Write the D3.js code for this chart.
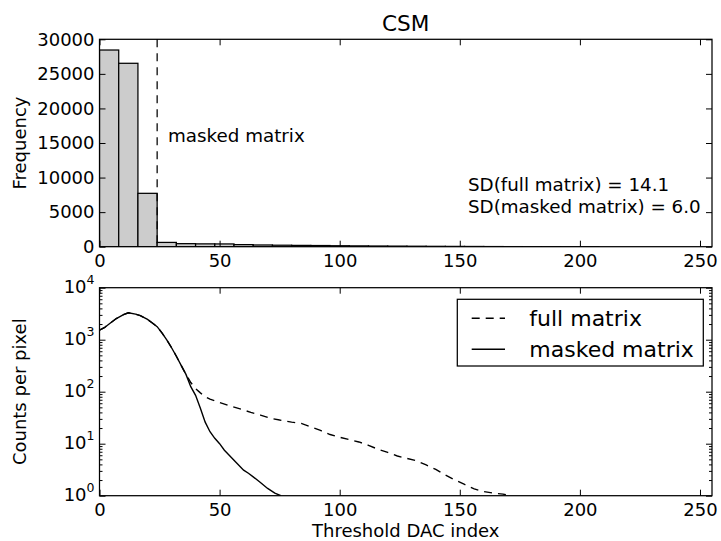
<!DOCTYPE html>
<html>
<head>
<meta charset="utf-8">
<script src="https://cdn.jsdelivr.net/npm/d3@7"></script>
<style>
  html, body { margin: 0; padding: 0; background: #fff; }
  svg { display: block; font-family: "DejaVu Sans", sans-serif; }
  .axis text { font-size: 18px; fill: #000; font-family: "DejaVu Sans", sans-serif; }
  .axis line { stroke: #000; stroke-width: 1; }
</style>
</head>
<body>
<svg id="chart" width="721" height="541"></svg>
<script>
// ---------------- data ----------------
const title = "CSM";
const histBinEdges = [0,8,16,24,32,40,48,56,64,72,80,88,96,104,112,120,128,136,144,152,160,168,176,184,192,200,208,216,224,232,240,248,256];
const histCounts = [28450,26530,7720,620,440,410,400,300,250,215,190,170,140,120,100,85,70,55,45,35,22,12,6,3,2,1,0,0,0,0,0,0];
const maskThreshold = 24;
const xTicks = [0,50,100,150,200,250];
const yTicksTop = [0,5000,10000,15000,20000,25000,30000];
const logDecades = [0,1,2,3,4];

const fullMatrix = [
  [0,1520],[2,1700],[4,2000],[7,2550],[10,3050],[12,3300],[15,3100],[17,2900],[20,2450],[22,2100],
  [24,1780],[26,1350],[28,990],[30,700],[32,480],[34,320],[36,215],[37,180],[38,150],[40,115],
  [42,95],[44,80],[46,72],[50,62],[55,52],[59,46],[63,40],[67,35.5],[71,31],[75,28.5],
  [80,26],[84,24.5],[88,21],[92,18],[96,15],[100,13.3],[104,12],[108,10.8],[112,9.3],[116,7.8],
  [120,6.8],[124,5.8],[128,5.2],[132,4.7],[136,3.9],[140,3.2],[144,2.5],[148,2.0],[152,1.65],
  [156,1.35],[160,1.2],[164,1.12],[168,1.07],[171,1.0]
];
const maskedMatrix = [
  [0,1520],[2,1700],[4,2000],[7,2550],[10,3050],[12,3300],[15,3100],[17,2900],[20,2450],[22,2100],
  [24,1780],[26,1350],[28,990],[30,700],[32,480],[34,320],[36,215],[38,125],[40,85],[42,48],
  [44,26],[46,17],[48,12.7],[50,10],[52,7.5],[54,6],[57,4.3],[60,3.1],[62,2.7],[64,2.3],
  [67,1.8],[70,1.38],[73,1.12],[75.5,1.0]
];
const sdLines = ["SD(full matrix) = 14.1", "SD(masked matrix) = 6.0"];
const legendLabels = ["full matrix", "masked matrix"];

// ---------------- layout ----------------
const svg = d3.select("#chart");
svg.append("rect").attr("width",721).attr("height",541).attr("fill","#fff");
const L = 99.5, R = 712;
const top1 = 39.3, bot1 = 246.7;
const top2 = 287.7, bot2 = 495.7;
const dash = "8,6";

const x1 = d3.scaleLinear().domain([0,255]).range([L,R]);
const y1 = d3.scaleLinear().domain([0,30000]).range([bot1,top1]);
const x2 = d3.scaleLinear().domain([0,255]).range([L,R]);
const y2 = d3.scaleLog().domain([1,10000]).range([bot2,top2]);

function cleanup(g){ g.select(".domain").remove(); }

// ---------- Top plot ----------
svg.append("clipPath").attr("id","clip1").append("rect")
  .attr("x",L).attr("y",top1).attr("width",R-L).attr("height",bot1-top1);

const bins = histCounts.map((c,i)=>({x0:histBinEdges[i], x1:histBinEdges[i+1], c}));
svg.append("g").attr("clip-path","url(#clip1)").selectAll("rect").data(bins).join("rect")
  .attr("x",d=>x1(d.x0)).attr("width",d=>x1(d.x1)-x1(d.x0))
  .attr("y",d=>y1(d.c)).attr("height",d=>y1(0)-y1(d.c))
  .attr("fill","#cccccc").attr("stroke","#000").attr("stroke-width",1.25);

svg.append("line").attr("x1",x1(maskThreshold)).attr("x2",x1(maskThreshold))
  .attr("y1",top1).attr("y2",bot1).attr("stroke","#000").attr("stroke-width",1.25)
  .attr("stroke-dasharray",dash);

svg.append("text").attr("x",168).attr("y",141.5).attr("font-size",18.3).text("masked matrix");
svg.selectAll("text.sd").data(sdLines).join("text").attr("class","sd")
  .attr("x",468).attr("y",(d,i)=>191+i*22).attr("font-size",18.3).text(d=>d);

// axes top plot
svg.append("g").attr("class","axis").attr("transform",`translate(0,${bot1})`)
  .call(d3.axisBottom(x1).tickValues(xTicks).tickSize(-6).tickSizeOuter(0).tickPadding(7.7)).call(cleanup);
svg.append("g").attr("class","axis").attr("transform",`translate(0,${top1})`)
  .call(d3.axisTop(x1).tickValues(xTicks).tickSize(-6).tickSizeOuter(0).tickFormat("")).call(cleanup);
svg.append("g").attr("class","axis").attr("transform",`translate(${L},0)`)
  .call(d3.axisLeft(y1).tickValues(yTicksTop).tickSize(-6).tickSizeOuter(0).tickPadding(5).tickFormat(d3.format("d"))).call(cleanup);
svg.append("g").attr("class","axis").attr("transform",`translate(${R},0)`)
  .call(d3.axisRight(y1).tickValues(yTicksTop).tickSize(-6).tickSizeOuter(0).tickFormat("")).call(cleanup);
svg.append("rect").attr("x",L).attr("y",top1).attr("width",R-L).attr("height",bot1-top1)
  .attr("fill","none").attr("stroke","#000").attr("stroke-width",1.25);

svg.append("text").attr("x",(L+R)/2).attr("y",31).attr("text-anchor","middle")
  .attr("font-size",21.6).text(title);
svg.append("text").attr("transform",`translate(26,${(top1+bot1)/2}) rotate(-90)`)
  .attr("text-anchor","middle").attr("font-size",18).text("Frequency");

// ---------- Bottom plot ----------
svg.append("clipPath").attr("id","clip2").append("rect")
  .attr("x",L).attr("y",top2).attr("width",R-L).attr("height",bot2-top2);
const line = d3.line().x(d=>x2(d[0])).y(d=>y2(d[1]));
const lg = svg.append("g").attr("clip-path","url(#clip2)");
lg.append("path").attr("d",line(maskedMatrix)).attr("fill","none").attr("stroke","#000").attr("stroke-width",1.4);
lg.append("path").attr("d",line(fullMatrix)).attr("fill","none").attr("stroke","#000").attr("stroke-width",1.4)
  .attr("stroke-dasharray",dash);

const majors = logDecades.map(k=>Math.pow(10,k));
const minors = [];
logDecades.slice(0,-1).forEach(k=>{ for(let m=2;m<=9;m++) minors.push(m*Math.pow(10,k)); });

svg.append("g").attr("class","axis").attr("transform",`translate(0,${bot2})`)
  .call(d3.axisBottom(x2).tickValues(xTicks).tickSize(-6).tickSizeOuter(0).tickPadding(7.7)).call(cleanup);
svg.append("g").attr("class","axis").attr("transform",`translate(0,${top2})`)
  .call(d3.axisTop(x2).tickValues(xTicks).tickSize(-6).tickSizeOuter(0).tickFormat("")).call(cleanup);
[["L",L,d3.axisLeft],["R",R,d3.axisRight]].forEach(([n,xp,ax])=>{
  svg.append("g").attr("class","axis").attr("transform",`translate(${xp},0)`)
    .call(ax(y2).tickValues(majors).tickSize(-6).tickSizeOuter(0).tickFormat("")).call(cleanup);
  svg.append("g").attr("class","axis").attr("transform",`translate(${xp},0)`)
    .call(ax(y2).tickValues(minors).tickSize(-3).tickSizeOuter(0).tickFormat("")).call(cleanup);
});
const lbl = svg.append("g").selectAll("text").data(logDecades).join("text")
  .attr("x",L-5).attr("y",d=>y2(Math.pow(10,d))).attr("dy","0.32em")
  .attr("text-anchor","end").attr("font-size",18);
lbl.append("tspan").text("10");
lbl.append("tspan").attr("font-size",12.5).attr("dy","-0.75em").text(d=>String(d));

svg.append("rect").attr("x",L).attr("y",top2).attr("width",R-L).attr("height",bot2-top2)
  .attr("fill","none").attr("stroke","#000").attr("stroke-width",1.25);

svg.append("text").attr("transform",`translate(26,${(top2+bot2)/2}) rotate(-90)`)
  .attr("text-anchor","middle").attr("font-size",18).text("Counts per pixel");
svg.append("text").attr("x",(L+R)/2).attr("y",537).attr("text-anchor","middle")
  .attr("font-size",18).text("Threshold DAC index");

// legend
const leg = svg.append("g");
leg.append("rect").attr("x",457.3).attr("y",299.3).attr("width",246).attr("height",66.7)
  .attr("fill","#fff").attr("stroke","#000").attr("stroke-width",1.25);
legendLabels.forEach((t,i)=>{
  const yy = 318.3 + i*31;
  leg.append("line").attr("x1",471.7).attr("x2",505).attr("y1",yy).attr("y2",yy)
    .attr("stroke","#000").attr("stroke-width",1.4).attr("stroke-dasharray", i===0?dash:null);
  leg.append("text").attr("x",529.3).attr("y",yy).attr("dy","0.35em").attr("font-size",22).text(t);
});
</script>
</body>
</html>
